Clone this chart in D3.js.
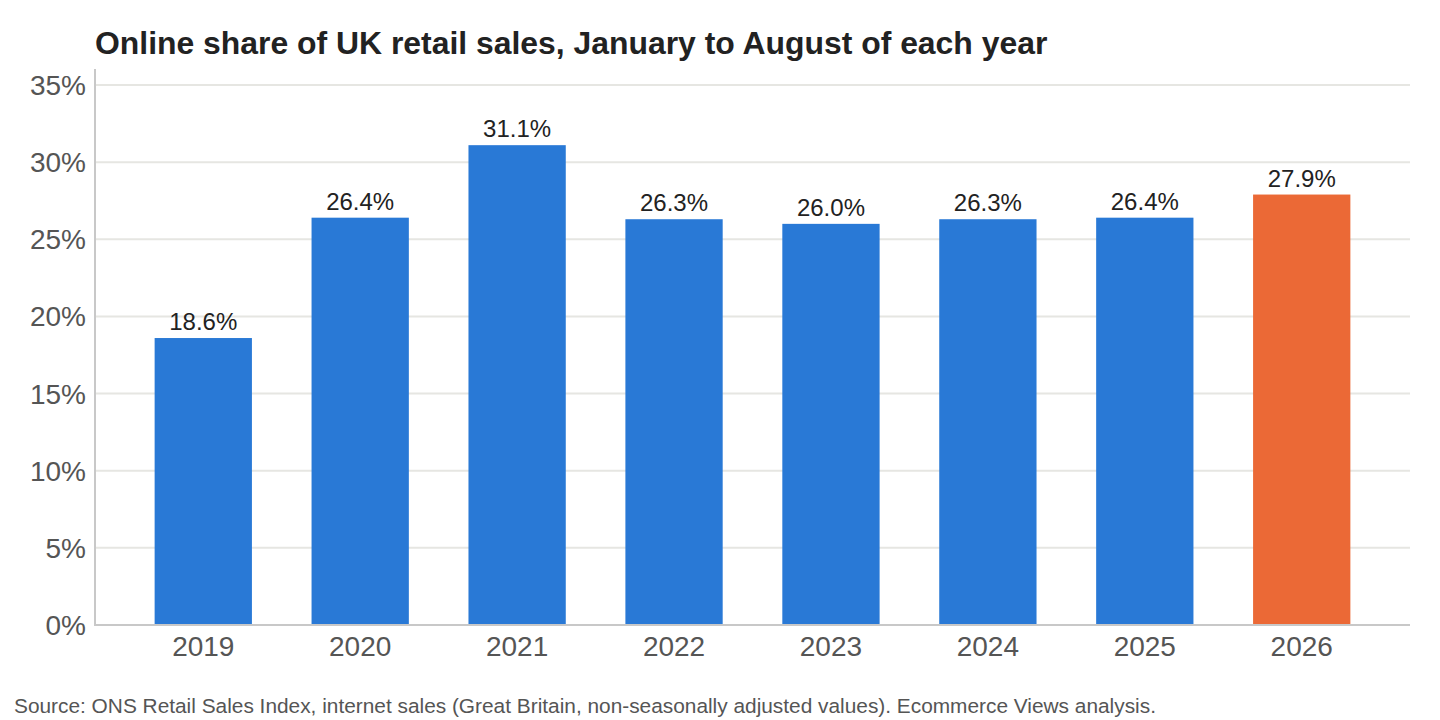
<!DOCTYPE html>
<html><head><meta charset="utf-8">
<script src="https://cdn.jsdelivr.net/npm/d3@7"></script>
<style>body{margin:0;background:#fff;font-family:"Liberation Sans",Arial,sans-serif;}</style>
</head><body>
<svg id="c" width="1440" height="720"></svg>
<script>
const years = ["2019","2020","2021","2022","2023","2024","2025","2026"];
const shares = [18.6, 26.4, 31.1, 26.3, 26.0, 26.3, 26.4, 27.9];
const yTicks = [0,5,10,15,20,25,30,35];
const highlightYear = "2026";

const svg = d3.select("#c");
const L=95, R=1410, T=69, B=625;
const x = d3.scaleBand().domain(years).range([L,R]).paddingInner(0.38).paddingOuter(0.38);
const y = d3.scaleLinear().domain([0,35]).range([B,85]);

svg.append("text").attr("x",95).attr("y",54).attr("font-size",31.9).attr("font-weight","bold").attr("fill","#222")
  .text("Online share of UK retail sales, January to August of each year");

const g = svg.append("g");
g.selectAll("line.grid").data(yTicks.filter(d=>d>0)).join("line")
  .attr("x1",L).attr("x2",R).attr("y1",d=>y(d)).attr("y2",d=>y(d))
  .attr("stroke","#e6e6e2").attr("stroke-width",2);

g.selectAll("text.yt").data(yTicks).join("text")
  .attr("x",86).attr("y",d=>y(d)+10).attr("text-anchor","end")
  .attr("font-size",28).attr("fill","#555").text(d=>d+"%");

g.selectAll("rect").data(years).join("rect")
  .attr("x",d=>x(d)).attr("width",x.bandwidth())
  .attr("y",(d,i)=>y(shares[i])).attr("height",(d,i)=>B-y(shares[i]))
  .attr("fill",d=>d===highlightYear?"#eb6936":"#2979d6");

g.selectAll("text.bl").data(years).join("text")
  .attr("x",d=>x(d)+x.bandwidth()/2).attr("y",(d,i)=>y(shares[i])-8)
  .attr("text-anchor","middle").attr("font-size",24).attr("fill","#222")
  .text((d,i)=>shares[i].toFixed(1)+"%");

g.selectAll("text.xt").data(years).join("text")
  .attr("x",d=>x(d)+x.bandwidth()/2).attr("y",656)
  .attr("text-anchor","middle").attr("font-size",28).attr("fill","#555").text(d=>d);

svg.append("line").attr("x1",L).attr("x2",R).attr("y1",B).attr("y2",B).attr("stroke","#c8c8c8").attr("stroke-width",2);
svg.append("line").attr("x1",L).attr("x2",L).attr("y1",T).attr("y2",B+1).attr("stroke","#c8c8c8").attr("stroke-width",2);

svg.append("text").attr("x",14).attr("y",713).attr("font-size",20.85).attr("fill","#555")
  .text("Source: ONS Retail Sales Index, internet sales (Great Britain, non-seasonally adjusted values). Ecommerce Views analysis.");
</script>
</body></html>
